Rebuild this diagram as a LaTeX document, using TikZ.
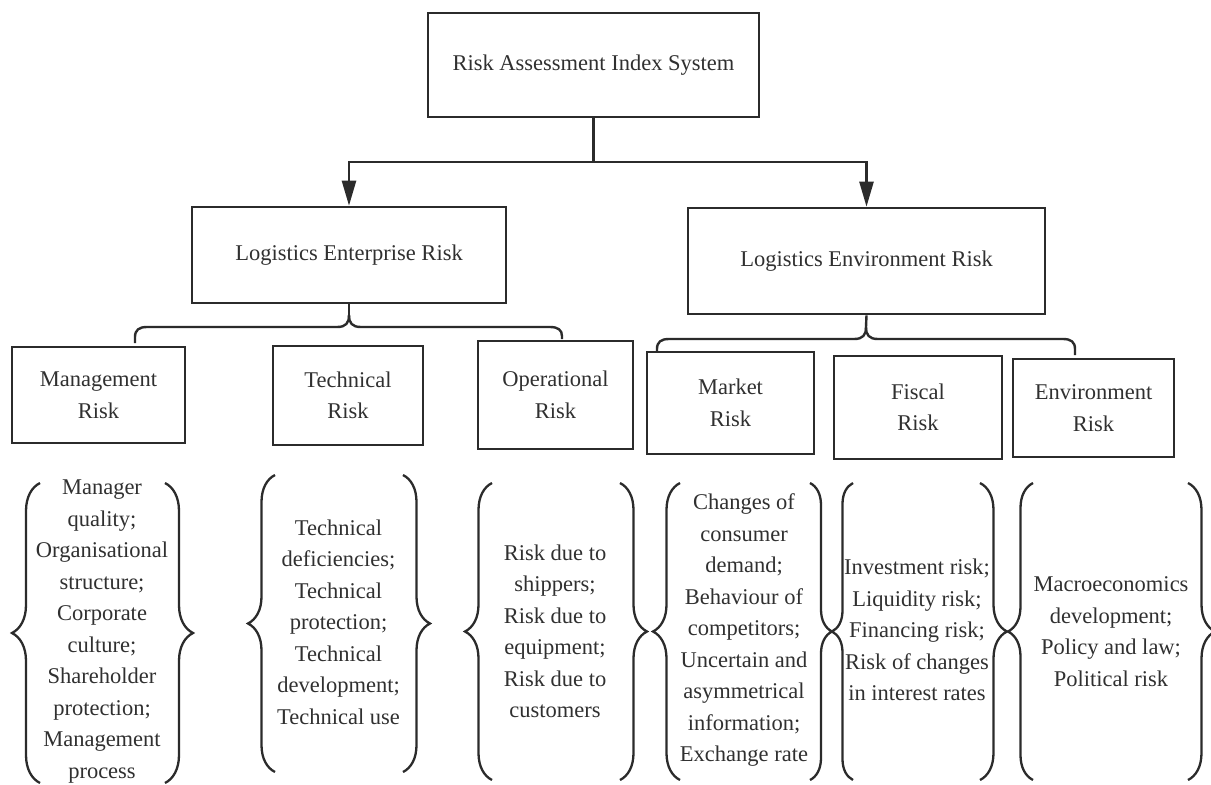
\documentclass[tikz,border=0pt]{standalone}
\usepackage{fontspec}
\setmainfont{Liberation Serif}
\usetikzlibrary{arrows.meta,decorations.pathreplacing}
\definecolor{linec}{HTML}{2B2B2B}
\definecolor{textc}{HTML}{303030}

\begin{document}
\begin{tikzpicture}[x=1pt,y=-1pt,
  txt/.style={text=textc, font=\fontsize{22.5}{31.5}\selectfont, align=center, inner sep=0pt},
  box/.style={txt, draw=linec, line width=2.6pt},
  items/.style={txt},
  conn/.style={draw=linec, line width=2.4pt},
  arr/.style={conn, -{Triangle[length=25pt,width=14pt]}},
  br/.style={draw=linec, line width=2.3pt, decorate, decoration={brace, amplitude=#1}},
  br/.default=27pt
]
\useasboundingbox (0,0) rectangle (1211,785);

% --- level 0 and level 1 boxes
\node[box, minimum width=331pt, minimum height=104pt] (top) at (593.5,65) {Risk Assessment Index System};
\node[box, minimum width=314pt, minimum height=96pt]  (ent) at (349,255)   {Logistics Enterprise Risk};
\node[box, minimum width=357pt, minimum height=106pt] (env) at (866.5,261) {Logistics Environment Risk};

% --- level 2 boxes
\node[box, minimum width=173pt, minimum height=96pt]  (mgmt)   at (98.5,395)   {Management\\Risk};
\node[box, minimum width=150pt, minimum height=99pt]  (tech)   at (348,395.5)  {Technical\\Risk};
\node[box, minimum width=155pt, minimum height=108pt] (oper)   at (555.5,395)  {Operational\\Risk};
\node[box, minimum width=167pt, minimum height=102pt] (market) at (730.5,403)  {Market\\Risk};
\node[box, minimum width=168pt, minimum height=103pt] (fiscal) at (918,407.5)  {Fiscal\\Risk};
\node[box, minimum width=161pt, minimum height=98pt]  (envr)   at (1093.5,408) {Environment\\Risk};

% --- arrows from the root
\coordinate (split) at (top.south |- 0,162);
\draw[conn] (top.south) -- (split);
\draw[arr] (split) -| (ent.north);
\draw[arr] (split) -| (env.north);

% --- bracket connector under the enterprise box
\coordinate (entfork)  at (349,315);
\coordinate (mgmtarm)  at (135,343);
\coordinate (operarm)  at (562,339);
\draw[conn] (ent.south) -- (entfork);
\draw[conn] (entfork) .. controls (349,323) and (346,327) .. (337,327) -- (147,327)
  .. controls (139,327) and (135,330) .. (135,337) -- (mgmtarm);
\draw[conn] (entfork) .. controls (349,323) and (352,327) .. (361,327) -- (550,327)
  .. controls (558,327) and (562,330) .. (562,336) -- (operarm);

% --- bracket connector under the environment box
\coordinate (envfork)    at (866,327);
\coordinate (marketarm)  at (657,352);
\coordinate (envrarm)    at (1075,355);
\draw[conn] (env.south) -- (envfork);
\draw[conn] (envfork) .. controls (866,335) and (863,339) .. (854,339) -- (669,339)
  .. controls (661,339) and (657,342) .. (657,349) -- (marketarm);
\draw[conn] (envfork) .. controls (866,335) and (869,339) .. (878,339) -- (1063,339)
  .. controls (1071,339) and (1075,342) .. (1075,349) -- (envrarm);

% --- item lists
\node[items] (mgmtlist) at (102,631.5)
  {Manager\\quality;\\Organisational\\structure;\\Corporate\\culture;\\Shareholder\\protection;\\Management\\process};
\node[items] (techlist) at (338.5,622)
  {Technical\\deficiencies;\\Technical\\protection;\\Technical\\development;\\Technical use};
\node[items] (operlist) at (555,631.5)
  {Risk due to\\shippers;\\Risk due to\\equipment;\\Risk due to\\customers};
\node[items] (marketlist) at (744,630)
  {Changes of\\consumer\\demand;\\Behaviour of\\competitors;\\Uncertain and\\asymmetrical\\information;\\Exchange rate};
\node[items] (fiscallist) at (917,630)
  {Investment risk;\\Liquidity risk;\\Financing risk;\\Risk of changes\\in interest rates};
\node[items] (envrlist) at (1111,631.5)
  {Macroeconomics\\development;\\Policy and law;\\Political risk};

% --- curly braces around the lists
\draw[br=28pt] (40,783) -- (40,483);
\draw[br=28pt] (165,483) -- (165,783);
\draw[br] (275,772) -- (275,475);
\draw[br] (403,475) -- (403,772);
\draw[br] (492,780) -- (492,483);
\draw[br] (620,483) -- (620,780);
\draw[br] (680,780) -- (680,483);
\draw[br=22pt] (810,483) -- (810,780);
\draw[br=21pt] (853,780) -- (853,483);
\draw[br] (980,483) -- (980,780);
\draw[br=25pt] (1033,780) -- (1033,483);
\draw[br] (1188,483) -- (1188,780);
\end{tikzpicture}
\end{document}
